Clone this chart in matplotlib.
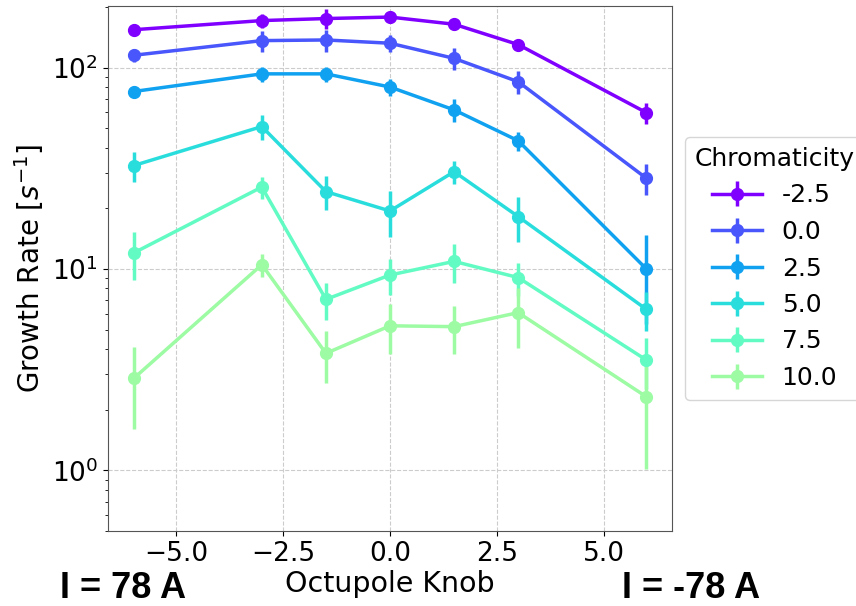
import matplotlib
matplotlib.use("Agg")
import matplotlib.pyplot as plt
from matplotlib.ticker import MultipleLocator
import numpy as np

knob = [-6, -3, -1.5, 0, 1.5, 3, 6]
chromaticities = ["-2.5", "0.0", "2.5", "5.0", "7.5", "10.0"]

rate_m25 = [154, 171, 175, 178, 164, 130, 59.7]
err_m25 = [11, 14, 20, 12, 10, 3, 7]
rate_0 = [115, 136, 137, 132, 111, 85, 28.2]
err_0 = [9, 16, 17, 13, 14, 11, 4.8]
rate_25 = [76, 93, 93, 80, 61.6, 43.3, 10.0]
err_25 = [5, 8, 8, 8, 8, 4.7, 4.7]
rate_5 = [32.6, 50.9, 24.2, 19.4, 30.4, 18.2, 6.3]
err_5 = [5.5, 7, 4.6, 5, 4, 4.6, 1.4]
rate_75 = [12.0, 25.5, 7.06, 9.33, 10.9, 9.06, 3.53]
err_75 = [3.2, 3.2, 1.5, 1.9, 2.4, 1.7, 1.0]
rate_10 = [2.86, 10.5, 3.81, 5.22, 5.17, 6.07, 2.32]
err_10 = [1.25, 1.35, 1.1, 1.45, 1.4, 2.0, 1.3]

rates = [rate_m25, rate_0, rate_25, rate_5, rate_75, rate_10]
errs = [err_m25, err_0, err_25, err_5, err_75, err_10]

colors = plt.cm.rainbow(np.linspace(0, 1, 10))[:6]

fig = plt.figure(figsize=(8.56, 6.06), dpi=100)
ax = fig.add_axes([108/856, 1-531/606, (672-108)/856, (531-6)/606])

for lab, r, e, c in zip(chromaticities, rates, errs, colors):
    ax.errorbar(knob, r, yerr=e, color=c, lw=2.5, elinewidth=2.5,
                marker='o', markersize=8.5, label=lab)

ax.set_yscale('log')
ax.set_ylim(0.5, 202)
ax.set_xlim(-6.6, 6.6)
ax.xaxis.set_major_locator(MultipleLocator(2.5))
ax.grid(True, which='major', ls='--', color='#cccccc', lw=0.8)
for s in ax.spines.values():
    s.set_color('#555555')
ax.tick_params(labelsize=19)
ax.set_xlabel('Octupole Knob', fontsize=20.5, labelpad=2)
ax.set_ylabel(r'Growth Rate [$s^{-1}$]', fontsize=20)

leg = ax.legend(title='Chromaticity', loc='center left', bbox_to_anchor=(1, 0.5),
                fontsize=18, title_fontsize=18)

fig.text(60/856, 0.5/606, 'I = 78 A', fontsize=26, fontweight='bold',
         family='Liberation Sans', va='bottom', ha='left')
fig.text(622/856, 0.5/606, 'I = -78 A', fontsize=26, fontweight='bold',
         family='Liberation Sans', va='bottom', ha='left')

fig.savefig('out.png', dpi=100)
